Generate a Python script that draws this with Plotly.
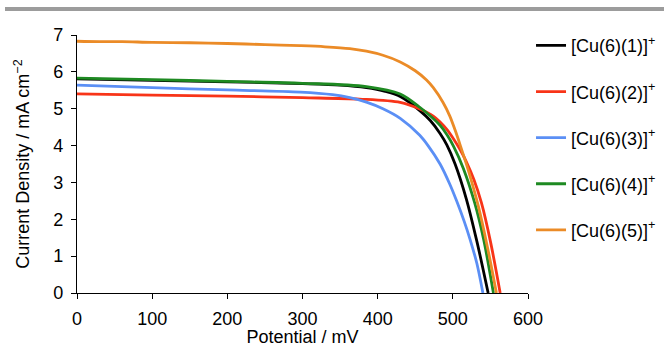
import plotly.graph_objects as go

# ---- data ----
names = ["[Cu(6)(1)]<sup>+</sup>", "[Cu(6)(2)]<sup>+</sup>", "[Cu(6)(3)]<sup>+</sup>",
         "[Cu(6)(4)]<sup>+</sup>", "[Cu(6)(5)]<sup>+</sup>"]

x_cu1 = [0, 100, 200, 300, 350, 385, 410, 430, 456, 470, 483, 492, 503, 518, 532, 547]
y_cu1 = [5.81, 5.77, 5.73, 5.68, 5.64, 5.57, 5.47, 5.33, 4.95, 4.68, 4.33, 4.02, 3.50, 2.55, 1.40, 0.0]

x_cu2 = [0, 100, 200, 300, 376, 430, 456, 474, 483, 492, 501, 510, 518, 528, 538, 550, 563]
y_cu2 = [5.40, 5.37, 5.34, 5.30, 5.26, 5.17, 4.99, 4.80, 4.64, 4.44, 4.18, 3.88, 3.56, 3.08, 2.45, 1.40, 0.0]

x_cu3 = [0, 100, 200, 297, 340, 363, 385, 407, 430, 456, 467, 483, 496, 505, 515, 523, 532, 540]
y_cu3 = [5.64, 5.57, 5.51, 5.45, 5.38, 5.30, 5.18, 5.00, 4.74, 4.28, 4.00, 3.50, 2.95, 2.50, 1.95, 1.45, 0.80, 0.0]

x_cu4 = [0, 100, 200, 300, 385, 430, 456, 483, 492, 501, 514, 529, 541, 554]
y_cu4 = [5.83, 5.79, 5.74, 5.69, 5.60, 5.40, 5.04, 4.55, 4.30, 3.98, 3.38, 2.45, 1.45, 0.0]

x_cu5 = [0, 30, 60, 100, 150, 200, 250, 297, 330, 363, 385, 407, 430, 450, 465, 474, 487, 496, 503,
         510, 520, 527, 534, 546, 558]
y_cu5 = [6.83, 6.82, 6.82, 6.80, 6.79, 6.77, 6.74, 6.71, 6.68, 6.63, 6.56, 6.45, 6.27, 6.03, 5.78,
         5.57, 5.17, 4.80, 4.42, 4.00, 3.37, 2.88, 2.35, 1.25, 0.0]

x_ticks = [0, 100, 200, 300, 400, 500, 600]
y_ticks = [0, 1, 2, 3, 4, 5, 6, 7]

colors = ["#000000", "#f83418", "#5b8ff5", "#1e8a22", "#eb8b27"]

series = [(x_cu1, y_cu1), (x_cu2, y_cu2), (x_cu3, y_cu3), (x_cu4, y_cu4), (x_cu5, y_cu5)]

FONT = "Liberation Sans, Arial, sans-serif"

fig = go.Figure()
for i, ((xs, ys), nm, c) in enumerate(zip(series, names, colors)):
    fig.add_trace(go.Scatter(
        x=xs, y=ys, name=nm, mode="lines",
        line=dict(color=c, width=2.8, shape="spline", smoothing=0.9),
        legendgroup=f"g{i}",
    ))

axis_common = dict(
    showgrid=False, zeroline=False, showline=True, linecolor="black", linewidth=1.3,
    ticks="outside", ticklen=5, tickwidth=1.3, tickcolor="black",
    tickfont=dict(family=FONT, size=18, color="black"),
)

fig.update_xaxes(range=[0, 600], tickvals=x_ticks, automargin=True,
                 title=dict(text="Potential / mV", font=dict(family=FONT, size=18, color="black"), standoff=9),
                 ticklabelstandoff=4, **axis_common)
fig.update_yaxes(range=[0, 7], tickvals=y_ticks, automargin=False,
                 title=dict(text="Current Density / mA cm<sup>−2</sup>",
                            font=dict(family=FONT, size=18, color="black"), standoff=18),
                 ticklabelstandoff=4, **axis_common)

# top gray rule
fig.add_shape(type="rect", xref="paper", yref="paper",
              x0=(5 - 77) / 451, x1=(664 - 77) / 451,
              y0=(293 - 11) / 258, y1=(293 - 7) / 258,
              fillcolor="#9c9c9c", line=dict(width=0), layer="above")

fig.update_layout(
    width=664, height=347,
    margin=dict(l=77, r=136, t=35, b=54, autoexpand=False),
    paper_bgcolor="white", plot_bgcolor="white",
    font=dict(family=FONT, size=18, color="black"),
    legend=dict(x=1.0067, xanchor="left", y=1.03, yanchor="top",
                font=dict(family=FONT, size=18, color="black"),
                tracegroupgap=19.7, bgcolor="rgba(0,0,0,0)", maxheight=1),
    showlegend=True,
)

fig.write_html("out.html", config={"displayModeBar": False},
               post_script="document.body.style.margin='0';document.body.style.padding='0';")
